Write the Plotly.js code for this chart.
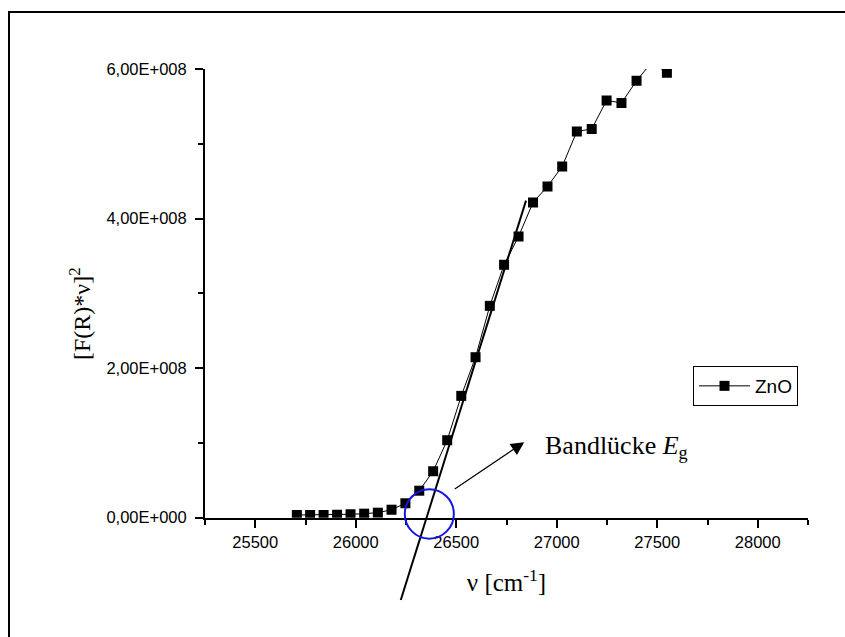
<!DOCTYPE html>
<html>
<head>
<meta charset="utf-8">
<script src="https://cdn.plot.ly/plotly-3.0.1.min.js"></script>
<style>
  html, body { margin: 0; padding: 0; background: #ffffff; overflow: hidden; }
  #frame {
    position: absolute; left: 8px; top: 11px; width: 900px; height: 700px;
    border-left: 2px solid #000; border-top: 2px solid #000; box-sizing: border-box;
  }
  #chart { position: absolute; left: 0; top: 0; width: 845px; height: 637px; }
</style>
</head>
<body>
<div id="frame"></div>
<div id="chart"></div>
<script>
// Wavenumber (cm^-1) and Kubelka-Munk signal [F(R)*nu]^2 for ZnO
const nu = [25707, 25773, 25840, 25907, 25974, 26042, 26110, 26178, 26247, 26316,
            26385, 26455, 26525, 26596, 26667, 26738, 26810, 26882, 26954, 27027,
            27100, 27174, 27248, 27322, 27397, 27473, 27548];
const znoSignal = [3.6e6, 3.6e6, 3.6e6, 4.0e6, 4.6e6, 5.4e6, 6.7e6, 10.7e6, 19.3e6, 36.1e6,
                   62.1e6, 103.6e6, 162.9e6, 214.6e6, 283.3e6, 338.2e6, 376.0e6, 421.5e6, 443.0e6, 469.7e6,
                   516.5e6, 519.8e6, 558.0e6, 554.6e6, 584.4e6, 609.0e6, 595.1e6];

// Linear fit of the absorption edge (extrapolated to the band gap)
const fitNu = [26224, 26847];
const fitSignal = [-1.10e8, 4.24e8];

// Band-gap marker: circle around the intercept, arrow and label
const gapCircleNu = [26244, 26488];
const gapCircleSignal = [-2.8e7, 3.8e7];
const arrowTail = [26485, 3.7e7];
const arrowHead = [26838, 1.01e8];
const gapLabelPos = [26933, 9.5e7];

// Axes
const xRange = [25250, 28250];
const yRange = [0, 6e8];
const xTickVals = [25500, 26000, 26500, 27000, 27500, 28000];
const xTickText = ['25500', '26000', '26500', '27000', '27500', '28000'];
const xMinorVals = [25250, 25750, 26250, 26750, 27250, 27750, 28250];
const yTickVals = [0, 2e8, 4e8, 6e8];
const yTickText = ['0,00E+000', '2,00E+008', '4,00E+008', '6,00E+008'];
const yMinorVals = [1e8, 3e8, 5e8];

// Page geometry (px)
const W = 845, H = 637;
const plotLeft = 205, plotRight = 808, plotTop = 69, axisBottom = 517.7, clipBottom = 615;
const mainFrac = (clipBottom - axisBottom) / (clipBottom - plotTop);
// second (hidden) y axis shares the scale of the main one but reaches below y = 0
const y2Low = yRange[0] - (yRange[1] - yRange[0]) * mainFrac / (1 - mainFrac);

const sans = 'Liberation Sans, Arial, sans-serif';
const serif = 'Liberation Serif, Times New Roman, serif';

const traces = [
  {
    x: nu, y: znoSignal, name: 'ZnO', type: 'scatter', mode: 'lines+markers',
    xaxis: 'x', yaxis: 'y',
    line: { color: '#000', width: 1 },
    marker: { symbol: 'square', size: 10, color: '#000' },
    hoverinfo: 'x+y'
  },
  {
    x: fitNu, y: fitSignal, type: 'scatter', mode: 'lines',
    xaxis: 'x', yaxis: 'y2', showlegend: false, hoverinfo: 'skip',
    line: { color: '#000', width: 2 }
  }
];

const axisCommon = {
  showline: true, linecolor: '#000', linewidth: 2, mirror: false,
  ticks: 'outside', ticklen: 8, tickwidth: 2, tickcolor: '#000',
  showgrid: false, zeroline: false,
  tickfont: { family: sans, size: 16.5, color: '#000' }
};

const layout = {
  width: W, height: H,
  margin: { l: plotLeft, r: W - plotRight, t: plotTop, b: H - clipBottom, pad: 0 },
  paper_bgcolor: 'rgba(0,0,0,0)',
  plot_bgcolor: 'rgba(0,0,0,0)',
  showlegend: true,
  xaxis: Object.assign({}, axisCommon, {
    range: xRange, anchor: 'y', domain: [0, 1],
    tickmode: 'array', tickvals: xTickVals, ticktext: xTickText,
    minor: { tickmode: 'array', tickvals: xMinorVals, ticks: 'outside', ticklen: 5, tickwidth: 2, tickcolor: '#000' },
    title: { text: 'ν [cm<sup>-1</sup>]', font: { family: serif, size: 25, color: '#000' }, standoff: 24 }
  }),
  yaxis: Object.assign({}, axisCommon, {
    range: yRange, anchor: 'x', domain: [mainFrac, 1],
    tickmode: 'array', tickvals: yTickVals, ticktext: yTickText,
    ticklabelstandoff: 5,
    minor: { tickmode: 'array', tickvals: yMinorVals, ticks: 'outside', ticklen: 5, tickwidth: 2, tickcolor: '#000' }
  }),
  yaxis2: {
    range: [y2Low, yRange[1]], domain: [0, 1], anchor: 'x', visible: false,
    showgrid: false, zeroline: false
  },
  legend: {
    x: (693 - plotLeft) / (plotRight - plotLeft),
    y: (clipBottom - 366) / (clipBottom - plotTop),
    xanchor: 'left', yanchor: 'top',
    itemwidth: 51,
    bgcolor: '#fff', bordercolor: '#000', borderwidth: 1,
    font: { family: sans, size: 19, color: '#000' }
  },
  shapes: [
    {
      type: 'circle', xref: 'x', yref: 'y2',
      x0: gapCircleNu[0], x1: gapCircleNu[1], y0: gapCircleSignal[0], y1: gapCircleSignal[1],
      line: { color: '#1414e6', width: 2 }
    }
  ],
  annotations: [
    {
      text: '[F(R)*ν]<sup>2</sup>', xref: 'paper', yref: 'paper',
      x: (80 - plotLeft) / (plotRight - plotLeft), y: (clipBottom - 314) / (clipBottom - plotTop),
      xanchor: 'center', yanchor: 'middle', textangle: -90, showarrow: false,
      font: { family: serif, size: 24, color: '#000' }
    },
    {
      text: '', xref: 'x', yref: 'y', x: arrowHead[0], y: arrowHead[1],
      axref: 'x', ayref: 'y', ax: arrowTail[0], ay: arrowTail[1],
      showarrow: true, arrowhead: 2, arrowsize: 2.2, arrowwidth: 1.2, arrowcolor: '#000',
      standoff: 0, startstandoff: 0
    },
    {
      text: 'Bandlücke <i>E</i><sub>g</sub>', xref: 'x', yref: 'y',
      x: gapLabelPos[0], y: gapLabelPos[1], xanchor: 'left', yanchor: 'middle',
      showarrow: false, font: { family: serif, size: 26, color: '#000' }
    }
  ]
};

Plotly.newPlot('chart', traces, layout, { displayModeBar: false, staticPlot: true });
</script>
</body>
</html>
